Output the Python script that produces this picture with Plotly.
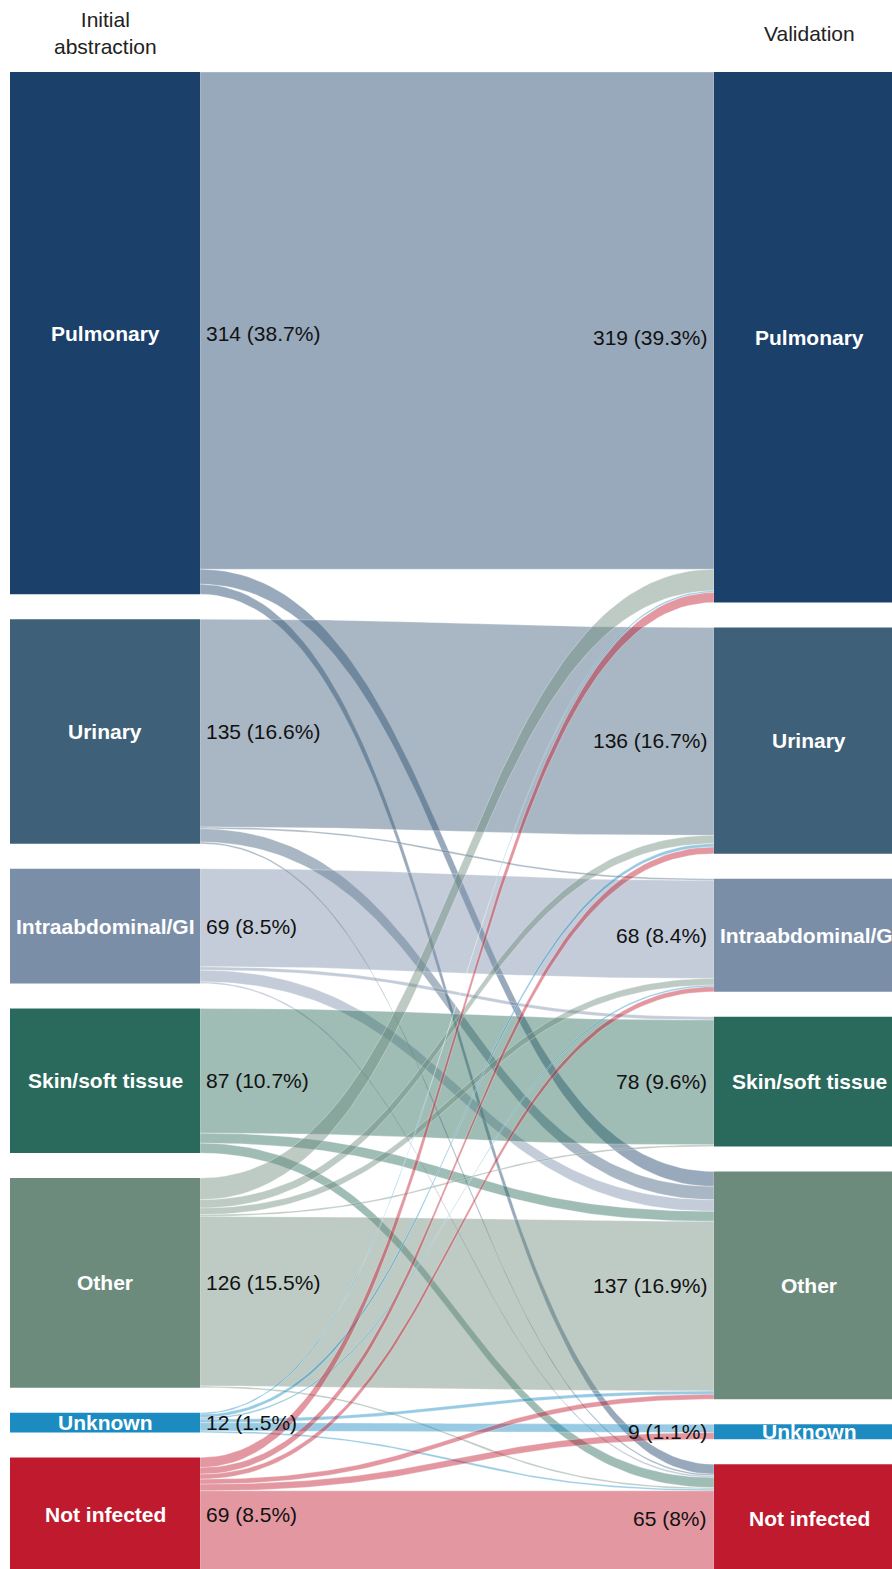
import numpy as np
import plotly.graph_objects as go

# ---------------- data ----------------
categories = ["Pulmonary", "Urinary", "Intraabdominal/GI", "Skin/soft tissue",
              "Other", "Unknown", "Not infected"]

# flows from each initial-abstraction category to the validation categories (same order)
from_pulmonary   = [299, 0, 0, 0, 9, 0, 6]
from_urinary     = [0, 125, 1, 0, 8, 0, 1]
from_intraabd    = [0, 0, 59, 2, 7, 0, 1]
from_skin        = [0, 0, 0, 75, 6, 0, 6]
from_other       = [13, 5, 4, 1, 102, 0, 1]
from_unknown     = [1, 2, 1, 0, 2, 5, 1]
from_notinfected = [6, 4, 3, 0, 3, 4, 49]

column_titles = ["Initial<br>abstraction", "Validation"]

# ---------------- style ----------------
node_colors = ["#1b406a", "#3e6079", "#7b8ea8", "#2a6a5c", "#6d8b7d", "#1b8bc2", "#c01a2e"]
LINK_ALPHA = 0.45
FONT = "Liberation Sans, Arial, Helvetica, sans-serif"
W, H = 892, 1569
TOP_PX = 72                         # top of node columns (px)
PX_PER_CASE = 1.663                 # vertical scale
GAP_PX = 25                         # gap between nodes
LX0, LX1 = 10, 200                  # left column x-extent (px)
RX0, RX1 = 714, 904                 # right column x-extent (px)

flows = np.array([from_pulmonary, from_urinary, from_intraabd, from_skin,
                  from_other, from_unknown, from_notinfected], dtype=float)
n = len(categories)
left_tot = flows.sum(axis=1)
right_tot = flows.sum(axis=0)
total = flows.sum()

scale = PX_PER_CASE
gap_u = GAP_PX / scale

left_top = np.concatenate([[0], np.cumsum(left_tot)[:-1]]) + np.arange(n) * gap_u
right_top = np.concatenate([[0], np.cumsum(right_tot)[:-1]]) + np.arange(n) * gap_u


def hex_rgba(h, a):
    h = h.lstrip("#")
    r, g, b = int(h[0:2], 16), int(h[2:4], 16), int(h[4:6], 16)
    return f"rgba({r},{g},{b},{a})"


def bezier(x0, y0, x1, y1, t):
    xm = (x0 + x1) / 2
    bx = (1 - t) ** 3 * x0 + 3 * (1 - t) ** 2 * t * xm + 3 * (1 - t) * t ** 2 * xm + t ** 3 * x1
    by = (1 - t) ** 3 * y0 + 3 * (1 - t) ** 2 * t * y0 + 3 * (1 - t) * t ** 2 * y1 + t ** 3 * y1
    return bx, by


fig = go.Figure()
t = np.linspace(0, 1, 90)

# links
src_cur = np.zeros(n)
tgt_cur = np.zeros(n)
for i in range(n):
    for j in range(n):
        v = flows[i, j]
        if v <= 0:
            continue
        sy = left_top[i] + src_cur[i]
        ty = right_top[j] + tgt_cur[j]
        src_cur[i] += v
        tgt_cur[j] += v
        tx, tyy = bezier(LX1, sy, RX0, ty, t)
        bx, byy = bezier(LX1, sy + v, RX0, ty + v, t)
        xs = np.concatenate([tx, bx[::-1], [tx[0]]])
        ys = np.concatenate([tyy, byy[::-1], [tyy[0]]])
        fig.add_trace(go.Scatter(x=xs, y=ys, mode="lines", fill="toself",
                                 fillcolor=hex_rgba(node_colors[i], LINK_ALPHA),
                                 line=dict(width=0.5, color="rgba(255,255,255,0.6)"),
                                 hoverinfo="skip", showlegend=False))

# nodes
for tops, tots, x0, x1 in [(left_top, left_tot, LX0, LX1),
                           (right_top, right_tot, RX0, RX1)]:
    for k in range(n):
        y0, y1 = tops[k], tops[k] + tots[k]
        fig.add_trace(go.Scatter(x=[x0, x1, x1, x0, x0], y=[y0, y0, y1, y1, y0],
                                 mode="lines", fill="toself", fillcolor=node_colors[k],
                                 line=dict(width=0, color=node_colors[k]),
                                 hoverinfo="skip", showlegend=False))

annotations = []
for side, tops, tots, x0, x1 in [("L", left_top, left_tot, LX0, LX1),
                                 ("R", right_top, right_tot, RX0, RX1)]:
    for k in range(n):
        yc = tops[k] + tots[k] / 2
        annotations.append(dict(x=(x0 + x1) / 2, y=yc, xref="x", yref="y",
                                text=categories[k], showarrow=False,
                                font=dict(family=FONT, size=21, color="white", weight="bold"),
                                xanchor="center", yanchor="middle"))
        pct = round(tots[k] / total * 100, 1)
        lab = f"{int(tots[k])} ({pct:g}%)"
        if side == "L":
            annotations.append(dict(x=x1 + 4, y=yc, xref="x", yref="y", text=lab,
                                    showarrow=False, xanchor="left", yanchor="middle",
                                    font=dict(family=FONT, size=21, color="#111")))
        else:
            annotations.append(dict(x=x0 - 5, y=yc, xref="x", yref="y", text=lab,
                                    showarrow=False, xanchor="right", yanchor="middle",
                                    font=dict(family=FONT, size=21, color="#111")))

title_y = 1 - 33 / H
annotations.append(dict(x=(LX0 + LX1) / 2, y=title_y, xref="x", yref="paper",
                        text=column_titles[0], showarrow=False, xanchor="center",
                        yanchor="middle", font=dict(family=FONT, size=21, color="#222")))
annotations.append(dict(x=(RX0 + RX1) / 2, y=title_y, xref="x", yref="paper",
                        text=column_titles[1], showarrow=False, xanchor="center",
                        yanchor="middle", font=dict(family=FONT, size=21, color="#222")))

fig.update_layout(
    width=W, height=H,
    margin=dict(l=0, r=0, t=0, b=0),
    paper_bgcolor="white", plot_bgcolor="white",
    xaxis=dict(range=[0, W], visible=False, fixedrange=True),
    yaxis=dict(range=[(H - TOP_PX) / scale, -TOP_PX / scale],
               visible=False, fixedrange=True),
    annotations=annotations,
    showlegend=False,
)

fig.write_html(
    "out.html",
    config={"displayModeBar": False},
    post_script="document.documentElement.style.overflow='hidden';"
                "document.body.style.margin='0';document.body.style.overflow='hidden';",
)
